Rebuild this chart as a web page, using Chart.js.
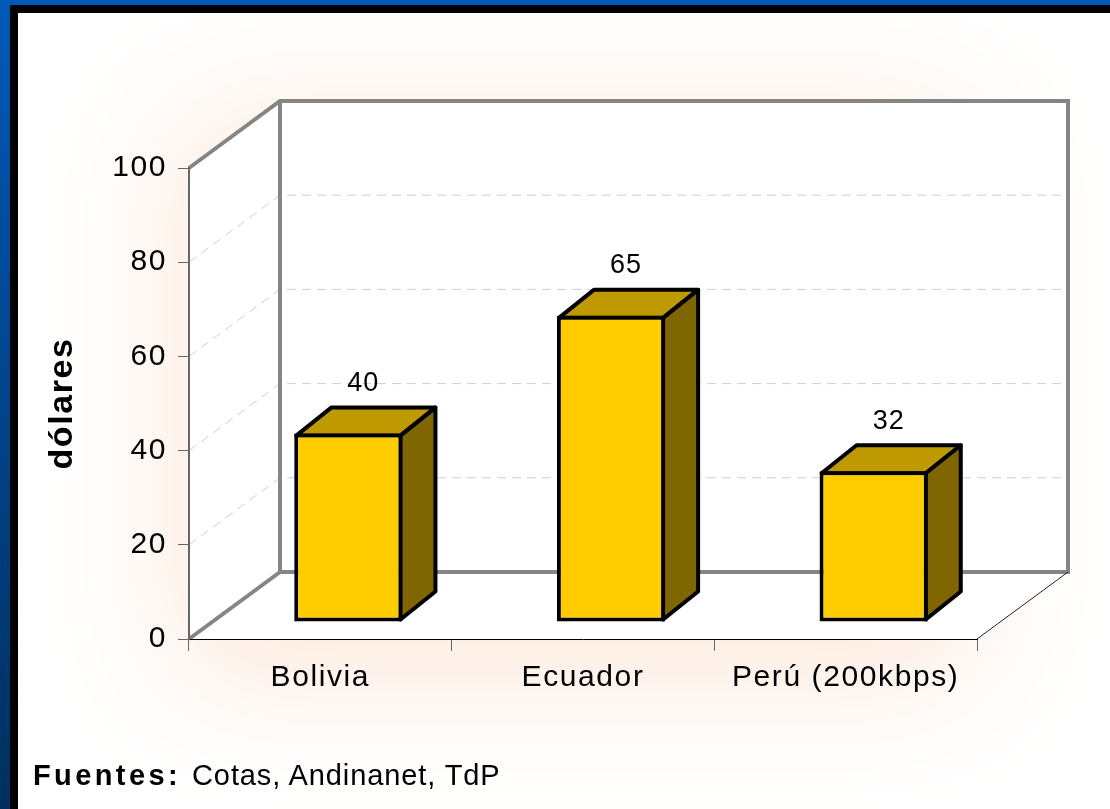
<!DOCTYPE html>
<html>
<head>
<meta charset="utf-8">
<style>
  html, body { margin: 0; height: 100%; overflow: hidden; }
  body { background: linear-gradient(#0059b8, #002f5e); position: relative; }
  #panel { position: absolute; left: 10px; top: 5px; right: 0; bottom: 0; background: #fff; border-left: 8px solid #000; border-top: 8px solid #000; }
  #chart { position: absolute; left: 0; top: 0; }
  #source { position: absolute; left: 33px; top: 759px; font: 29px "Liberation Sans", Arial, sans-serif; letter-spacing: 0.9px; color: #000; white-space: pre; }
  #source b { letter-spacing: 3.4px; margin-right: 2px; }
</style>
<script src="https://cdn.jsdelivr.net/npm/chart.js@4"></script>
</head>
<body>
<div id="panel"></div>
<canvas id="chart" width="1110" height="809"></canvas>
<div id="source"><b>Fuentes:</b> Cotas, Andinanet, TdP</div>
<script>
const categories = ["Bolivia", "Ecuador", "Perú (200kbps)"];
const prices = [40, 65, 32];
const gridValues = [20, 40, 60, 80];

const FONT = '"Liberation Sans", Arial, sans-serif';
const wallDx = 91, wallDy = -67;   // back wall offset
const barShiftX = 28, barShiftY = -17;  // bars stand inside the floor
const barDx = 35, barDy = -28;     // bar depth

const line = (ctx, pts, color, width, dash) => {
  ctx.save();
  ctx.beginPath();
  pts.forEach((p, i) => (i ? ctx.lineTo(p[0], p[1]) : ctx.moveTo(p[0], p[1])));
  ctx.strokeStyle = color;
  ctx.lineWidth = width;
  ctx.setLineDash(dash || []);
  ctx.stroke();
  ctx.restore();
};

const poly = (ctx, pts, fill) => {
  ctx.beginPath();
  pts.forEach((p, i) => (i ? ctx.lineTo(p[0], p[1]) : ctx.moveTo(p[0], p[1])));
  ctx.closePath();
  ctx.fillStyle = fill;
  ctx.fill();
  ctx.strokeStyle = "#000";
  ctx.lineWidth = 4;
  ctx.lineJoin = "round";
  ctx.stroke();
};

const box3d = {
  id: "box3d",
  beforeDraw(chart) {
    const { ctx, chartArea: a, scales: { y } } = chart;
    ctx.letterSpacing = "1.6px";

    // soft peach glow behind the plot
    ctx.save();
    ctx.beginPath();
    ctx.rect(18, 13, 1092, 796);
    ctx.clip();
    ctx.shadowColor = "#fde9db";
    ctx.shadowBlur = 130;
    ctx.shadowOffsetX = 3000;
    ctx.fillStyle = "#000";
    ctx.fillRect(175 - 3000, 115, 800, 565);
    ctx.restore();

    const l = a.left, r = a.right, t = a.top, b = a.bottom;
    const bl = l + wallDx, br = r + wallDx, bt = t + wallDy, bb = b + wallDy;

    ctx.beginPath();
    [[l, t], [bl, bt], [br, bt], [br, bb], [r, b], [l, b]].forEach((p, i) =>
      i ? ctx.lineTo(p[0], p[1]) : ctx.moveTo(p[0], p[1]));
    ctx.closePath();
    ctx.fillStyle = "#fff";
    ctx.fill();

    gridValues.forEach((v) => {
      const py = y.getPixelForValue(v);
      line(ctx, [[l, py], [bl, py + wallDy], [br, py + wallDy]], "#cfcfcf", 1, [9, 6]);
    });

    line(ctx, [[l, t], [bl, bt], [br, bt], [br, bb], [bl, bb], [bl, bt]], "#858585", 4);
    line(ctx, [[l, b], [bl, bb]], "#858585", 4);
    line(ctx, [[r, b], [br, bb]], "#222", 1);
  },
  beforeDatasetsDraw(chart) {
    const { ctx } = chart;
    ctx.save();
    ctx.translate(barShiftX, barShiftY);
    chart.getDatasetMeta(0).data.forEach((bar) => {
      const half = bar.width / 2;
      const x0 = bar.x - half + 2, x1 = bar.x + half - 2, top = bar.y + 2, base = bar.base - 2;
      poly(ctx, [[x0, top], [x0 + barDx, top + barDy], [x1 + barDx, top + barDy], [x1, top]], "#bf9900");
      poly(ctx, [[x1, top], [x1 + barDx, top + barDy], [x1 + barDx, base + barDy], [x1, base]], "#806600");
    });
  },
  afterDatasetsDraw(chart) {
    const { ctx } = chart;
    ctx.restore();
    ctx.save();
    ctx.font = `27px ${FONT}`;
    ctx.letterSpacing = "1px";
    ctx.fillStyle = "#000";
    ctx.textAlign = "center";
    ctx.textBaseline = "middle";
    chart.getDatasetMeta(0).data.forEach((bar, i) => {
      ctx.fillText(String(prices[i]), bar.x + barShiftX + 15, bar.y - 67);
    });
    ctx.restore();
  },
};

new Chart(document.getElementById("chart"), {
  type: "bar",
  data: {
    labels: categories,
    datasets: [{
      label: "dólares",
      data: prices,
      backgroundColor: "#ffcc00",
      borderColor: "#000",
      borderWidth: 4,
      borderSkipped: false,
      barPercentage: 0.412,
      categoryPercentage: 1,
      clip: false,
    }],
  },
  options: {
    responsive: false,
    animation: false,
    layout: { padding: { top: 168, right: 133, left: 0, bottom: 0 } },
    plugins: { legend: { display: false }, tooltip: { enabled: false } },
    scales: {
      x: {
        afterFit: (s) => { s.height = 170; },
        border: { color: "#000", width: 1 },
        grid: { offset: true, drawOnChartArea: false, color: "#666", tickLength: 12 },
        ticks: { color: "#000", font: { family: FONT, size: 30 }, padding: 9, maxRotation: 0, autoSkip: false },
      },
      y: {
        min: 0,
        max: 100,
        afterFit: (s) => { s.width = 189; },
        border: { color: "#666", width: 2 },
        grid: { drawOnChartArea: false, color: "#666", tickLength: 11 },
        ticks: { stepSize: 20, color: "#000", font: { family: FONT, size: 30 }, padding: 11 },
        title: {
          display: true,
          text: "dólares",
          color: "#000",
          font: { family: FONT, size: 34, weight: "bold" },
          padding: { top: 42, bottom: 0 },
        },
      },
    },
  },
  plugins: [box3d],
});
</script>
</body>
</html>
